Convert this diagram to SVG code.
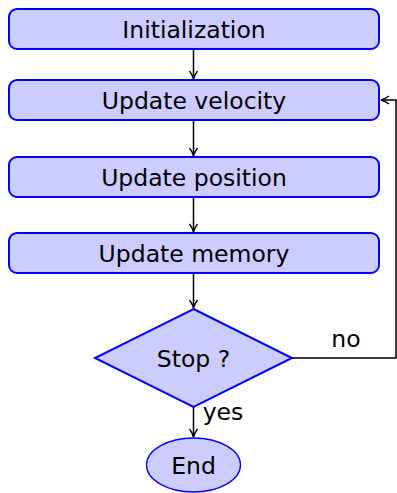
<svg xmlns="http://www.w3.org/2000/svg" width="397" height="493" viewBox="0 0 397 493">
<defs>
<marker id="ah" viewBox="0 0 10 10" refX="9" refY="5" markerWidth="10" markerHeight="10" markerUnits="userSpaceOnUse" orient="auto">
<path d="M1,1 Q5,4 9,5 Q5,6 1,9" fill="none" stroke="#000" stroke-width="1.3"/>
</marker>
<style>
.box{fill:#ccccff;stroke:#0000ff;stroke-width:2}
.t{font-family:"DejaVu Sans","Liberation Sans",sans-serif;font-size:23.5px;fill:#000;text-anchor:middle}
.c{fill:none;stroke:#000;stroke-width:1.5;marker-end:url(#ah)}
</style>
</defs>
<g id="init"><rect class="box" x="9" y="9" width="370" height="40" rx="8"/><text class="t" x="194" y="38">Initialization</text></g>
<g id="vel"><rect class="box" x="9" y="80" width="370" height="40" rx="8"/><text class="t" x="194" y="109">Update velocity</text></g>
<g id="pos"><rect class="box" x="9" y="157" width="370" height="40" rx="8"/><text class="t" x="194" y="186">Update position</text></g>
<g id="mem"><rect class="box" x="9" y="233" width="370" height="40" rx="8"/><text class="t" x="194" y="262">Update memory</text></g>
<g id="stop"><polygon class="box" points="193.5,309 292,358 193.5,407 95,358"/><text class="t" x="193.5" y="367">Stop ?</text></g>
<g id="end"><ellipse class="box" cx="193.5" cy="465" rx="47" ry="27" style="stroke-width:1.3"/><text class="t" x="193.5" y="474">End</text></g>
<g id="connectors">
<line class="c" x1="193.5" y1="49" x2="193.5" y2="79"/>
<line class="c" x1="193.5" y1="120" x2="193.5" y2="156"/>
<line class="c" x1="193.5" y1="197" x2="193.5" y2="232"/>
<line class="c" x1="193.5" y1="273" x2="193.5" y2="308"/>
<line class="c" x1="193.5" y1="407" x2="193.5" y2="437"/>
<polyline class="c" points="292,358 396,358 396,100 381,100"/>
<text class="t" x="223" y="420">yes</text>
<text class="t" x="346" y="347">no</text>
</g>
</svg>
